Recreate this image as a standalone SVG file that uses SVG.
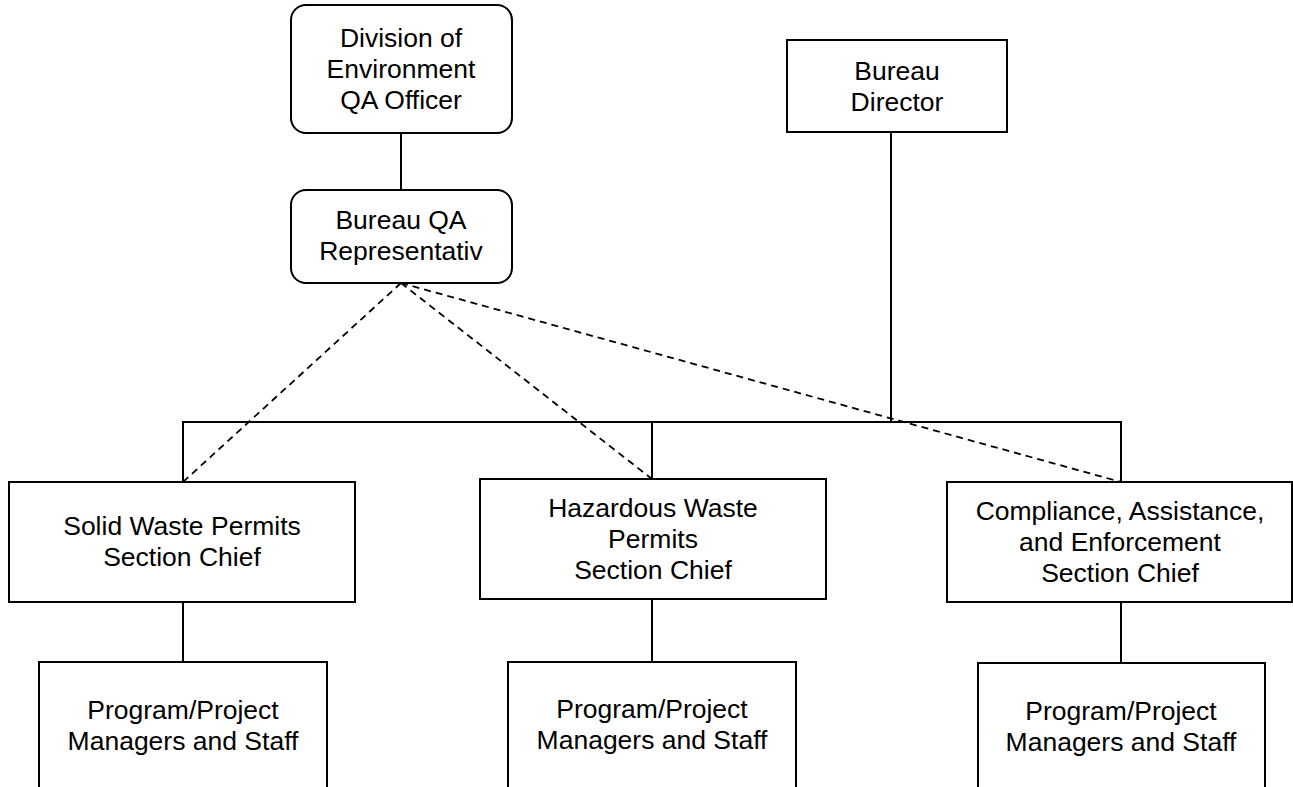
<svg xmlns="http://www.w3.org/2000/svg" width="1293" height="787" viewBox="0 0 1293 787">
<style>
.box{fill:#fff;stroke:#000;stroke-width:2}
.ln{fill:none;stroke:#000;stroke-width:2}
.dash{fill:none;stroke:#000;stroke-width:1.8;stroke-dasharray:7 5}
text{font-family:"Liberation Sans",Arial,sans-serif;font-size:26.5px;fill:#000;text-anchor:middle}
</style>
<rect width="1293" height="787" fill="#fff"/>
<g id="connectors">
<line class="ln" x1="401" y1="133" x2="401" y2="190"/>
<line class="ln" x1="891" y1="132" x2="891" y2="422"/>
<polyline class="ln" points="183,482 183,422 1121,422 1121,482"/>
<line class="ln" x1="652" y1="422" x2="652" y2="479"/>
<line class="ln" x1="183" y1="602" x2="183" y2="662"/>
<line class="ln" x1="652" y1="599" x2="652" y2="662"/>
<line class="ln" x1="1121" y1="602" x2="1121" y2="663"/>
<line class="dash" x1="401" y1="283" x2="183" y2="482"/>
<line class="dash" x1="401" y1="283" x2="652" y2="479"/>
<line class="dash" x1="401" y1="283" x2="1121" y2="482"/>
</g>
<g id="div-qa">
<rect class="box" x="291" y="5" width="221" height="128" rx="15"/>
<text x="401" y="47">Division of</text>
<text x="401" y="78">Environment</text>
<text x="401" y="109">QA Officer</text>
</g>
<g id="bureau-director">
<rect class="box" x="787" y="40" width="220" height="92"/>
<text x="897" y="80">Bureau</text>
<text x="897" y="111">Director</text>
</g>
<g id="bureau-qa">
<rect class="box" x="291" y="190" width="221" height="93" rx="15"/>
<text x="401" y="229">Bureau QA</text>
<text x="401" y="260">Representativ</text>
</g>
<g id="solid-waste">
<rect class="box" x="9" y="482" width="346" height="120"/>
<text x="182" y="535">Solid Waste Permits</text>
<text x="182" y="566">Section Chief</text>
</g>
<g id="hazardous-waste">
<rect class="box" x="480" y="479" width="346" height="120"/>
<text x="653" y="517">Hazardous Waste</text>
<text x="653" y="548">Permits</text>
<text x="653" y="579">Section Chief</text>
</g>
<g id="compliance">
<rect class="box" x="947" y="482" width="345" height="120"/>
<text x="1120" y="520">Compliance, Assistance,</text>
<text x="1120" y="551">and Enforcement</text>
<text x="1120" y="582">Section Chief</text>
</g>
<g id="staff-1">
<rect class="box" x="39" y="662" width="288" height="140"/>
<text x="183" y="719">Program/Project</text>
<text x="183" y="750">Managers and Staff</text>
</g>
<g id="staff-2">
<rect class="box" x="508" y="662" width="288" height="140"/>
<text x="652" y="718">Program/Project</text>
<text x="652" y="749">Managers and Staff</text>
</g>
<g id="staff-3">
<rect class="box" x="978" y="663" width="287" height="140"/>
<text x="1121" y="720">Program/Project</text>
<text x="1121" y="751">Managers and Staff</text>
</g>
</svg>
